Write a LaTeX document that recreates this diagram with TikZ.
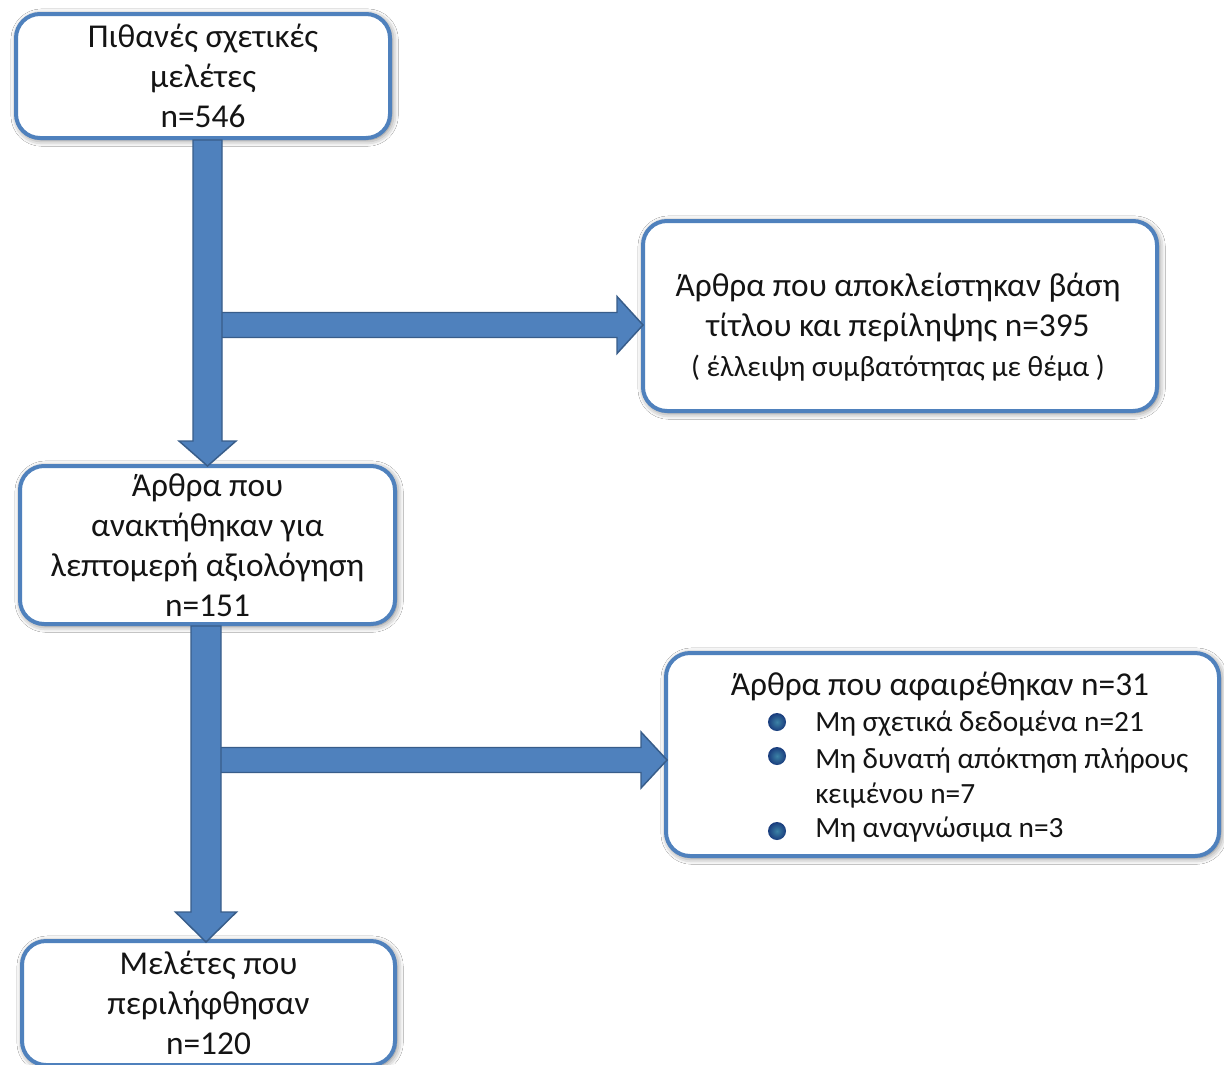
\documentclass[tikz,border=0pt]{standalone}
\usepackage{fontspec}
\setmainfont{Carlito}
\usetikzlibrary{calc,shadows.blur}
\definecolor{boxblue}{RGB}{79,129,189}
\definecolor{arrowfill}{RGB}{79,129,189}
\definecolor{arrowedge}{RGB}{56,93,138}
\definecolor{bulletin}{RGB}{60,130,165}
\definecolor{bulletout}{RGB}{25,60,125}
\definecolor{txtcol}{RGB}{20,20,20}
\newcommand\mainfs{\fontsize{25}{30}\selectfont}
\newcommand\smallfs{\fontsize{22}{26.25}\selectfont}
\newcommand\vbarrow[5]{\draw[barrow] ($(#1)+(-#3,0)$) -- ($(#2)+(-#3,-#5)$) -- ($(#2)+(-#4,-#5)$) -- (#2) -- ($(#2)+(#4,-#5)$) -- ($(#2)+(#3,-#5)$) -- ($(#1)+(#3,0)$) -- cycle;}
\newcommand\hbarrow[5]{\draw[barrow] ($(#1)+(0,-#3)$) -- ($(#2)+(-#5,-#3)$) -- ($(#2)+(-#5,-#4)$) -- (#2) -- ($(#2)+(-#5,#4)$) -- ($(#2)+(-#5,#3)$) -- ($(#1)+(0,#3)$) -- cycle;}
\begin{document}
\begin{tikzpicture}[x=0.75pt,y=-0.75pt,
  box/.style={draw=boxblue, line width=3pt, rounded corners=18pt, fill=white,
    blur shadow={shadow xshift=1.2pt, shadow yshift=-1.2pt, shadow blur radius=5pt, shadow opacity=60},
    inner sep=0pt, align=center, font=\mainfs, text=txtcol},
  txt/.style={inner sep=0pt, font=\mainfs, text=txtcol, align=center},
  item/.style={inner sep=0pt, font=\smallfs, text=txtcol, align=left},
  bullet/.style={circle, inner sep=0pt, minimum size=13.5pt, shading=radial, inner color=bulletin, outer color=bulletout},
  barrow/.style={fill=arrowfill, draw=arrowedge, line width=1.1pt, line join=miter}]
\fill[white] (0,0) rectangle (1224,1064);
\useasboundingbox (0,0) rectangle (1224,1064);
\clip (0,0) rectangle (1224,1064);

% boxes
\node[box, minimum width=280.5pt, minimum height=93pt] (b1) at (203,76)
  {Πιθανές σχετικές\\ μελέτες\\ n=546};
\node[box, minimum width=385.5pt, minimum height=142.5pt] (b2) at (900,316) {};
\node[txt] (t2) at (898,327)
  {Άρθρα που αποκλείστηκαν βάση\\ τίτλου και περίληψης n=395\\ {\fontsize{22}{30}\selectfont ( έλλειψη συμβατότητας με θέμα )}};
\node[box, minimum width=281.25pt, minimum height=118.5pt] (b3) at (207.5,545)
  {Άρθρα που\\ ανακτήθηκαν για\\ λεπτομερή αξιολόγηση\\ n=151};
\node[box, minimum width=414.75pt, minimum height=152.25pt] (b4) at (942.5,754.5) {};
\node[txt, anchor=base] (t4) at (940,695) {Άρθρα που αφαιρέθηκαν n=31};
\node[bullet] (d1) at (777,722) {};
\node[bullet] (d2) at (777,756) {};
\node[bullet] (d3) at (777,831) {};
\node[item, anchor=base west] (i1) at (815,731.5) {Μη σχετικά δεδομένα n=21};
\node[item, anchor=west] (i2) at (815,778) {Μη δυνατή απόκτηση πλήρους\\ κειμένου n=7};
\node[item, anchor=base west] (i3) at (815,837.5) {Μη αναγνώσιμα n=3};
\node[box, minimum width=279.75pt, minimum height=93pt] (b5) at (208.5,1003)
  {Μελέτες που\\ περιλήφθησαν\\ n=120};

% arrow guide coordinates
\coordinate (x1) at (207.5,0);
\coordinate (x2) at (206,0);
\coordinate (y1) at (0,325);
\coordinate (y2) at (0,760);
\coordinate (h1s) at (221,325);
\coordinate (h2s) at (219,760);
\coordinate (v1s) at (b1.south -| x1);
\coordinate (v1e) at ($(b3.north -| x1)+(0,2)$);
\coordinate (h1e) at ($(b2.west |- y1)+(2,0)$);
\coordinate (v2s) at (b3.south -| x2);
\coordinate (v2e) at ($(b5.north -| x2)+(0,3)$);
\coordinate (h2e) at ($(b4.west |- y2)+(3,0)$);

% block arrows
\hbarrow{h1s}{h1e}{12.5}{28.5}{26}
\vbarrow{v1s}{v1e}{14.5}{28.5}{25}
\hbarrow{h2s}{h2e}{12.5}{28}{26}
\vbarrow{v2s}{v2e}{15}{30.5}{30}
\end{tikzpicture}
\end{document}
